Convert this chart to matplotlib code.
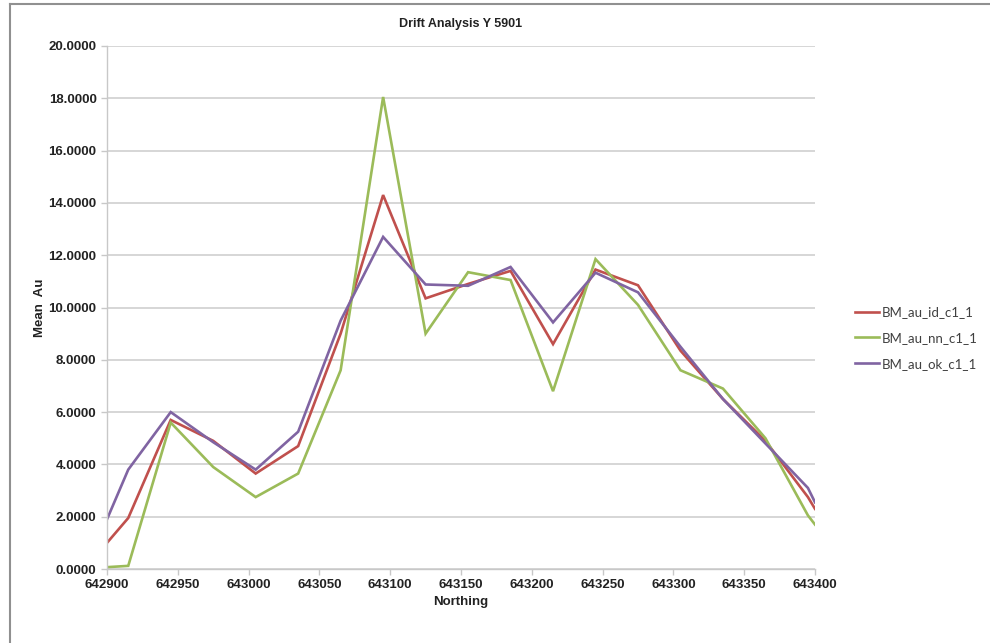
import matplotlib.pyplot as plt
from matplotlib.lines import Line2D
from matplotlib.ticker import FormatStrFormatter, MultipleLocator

plt.rcParams['font.family'] = ['Liberation Sans', 'DejaVu Sans']

# northing positions (first/last are the axis edges where the lines get cut)
northing = [642900, 642915, 642945, 642975, 643005, 643035, 643065, 643095, 643125,
            643155, 643185, 643215, 643245, 643275, 643305, 643335, 643365, 643395, 643400]

au_id = [1.0, 1.95, 5.7, 4.9, 3.65, 4.7, 9.0, 14.3, 10.35,
         10.9, 11.4, 8.6, 11.45, 10.85, 8.35, 6.5, 4.9, 2.75, 2.3]
au_nn = [0.07, 0.12, 5.6, 3.9, 2.75, 3.65, 7.6, 18.05, 9.0,
         11.35, 11.05, 6.8, 11.85, 10.1, 7.6, 6.9, 5.0, 2.05, 1.7]
au_ok = [1.9, 3.8, 6.0, 4.85, 3.8, 5.25, 9.5, 12.7, 10.88,
         10.83, 11.55, 9.43, 11.33, 10.58, 8.5, 6.5, 4.8, 3.1, 2.55]

series = [('BM_au_id_c1_1', au_id, '#C0504D'),
          ('BM_au_nn_c1_1', au_nn, '#9BBB59'),
          ('BM_au_ok_c1_1', au_ok, '#8064A2')]

fig = plt.figure(figsize=(9.9, 6.43), dpi=100)
ax = fig.add_axes([107/990, 1 - 569/643, (815-107)/990, (569-46)/643])

for name, vals, col in series:
    ax.plot(northing, vals, color=col, lw=1.9, label=name, solid_joinstyle='miter')

ax.set_xlim(642900, 643400)
ax.set_ylim(0, 20)
ax.xaxis.set_major_locator(MultipleLocator(50))
ax.yaxis.set_major_locator(MultipleLocator(2))
ax.yaxis.set_major_formatter(FormatStrFormatter('%.4f'))
ax.grid(axis='y', color='#d0d0d0', lw=1.2)
ax.set_axisbelow(True)

for s in ['top', 'right']:
    ax.spines[s].set_visible(False)
for s in ['left', 'bottom']:
    ax.spines[s].set_color('#c8c8c8')
    ax.spines[s].set_linewidth(1.0)
ax.tick_params(axis='both', colors='#c8c8c8', length=4, width=1, labelcolor='#222222',
               labelsize=9.5)
for lab in ax.get_xticklabels() + ax.get_yticklabels():
    lab.set_fontweight('bold')

ax.set_xlabel('Northing', fontsize=9.5, fontweight='bold', color='#222222', labelpad=3)
ax.set_ylabel('Mean  Au', fontsize=9.5, fontweight='bold', color='#222222', labelpad=2)
fig.text(0.5 * (107 + 815) / 990, 1 - 24/643, 'Drift Analysis Y 5901', ha='center', va='center',
         fontsize=9, fontweight='bold', color='#222222')

leg = fig.legend(loc='center left', bbox_to_anchor=(855/990, 1 - 338/643), frameon=False,
                 prop={'family': ['Lato', 'DejaVu Sans'], 'size': 9.5},
                 handlelength=1.8, labelspacing=1.05, handletextpad=0.25,
                 borderpad=0, borderaxespad=0)
for t in leg.get_texts():
    t.set_color('#404040')

# outer chart border (top and left visible)
fig.add_artist(Line2D([10/990, 1], [1 - 4/643, 1 - 4/643], transform=fig.transFigure,
                      color='#909090', lw=1.5))
fig.add_artist(Line2D([10/990, 10/990], [0, 1 - 4/643], transform=fig.transFigure,
                      color='#909090', lw=1.5))

fig.savefig('out.png', dpi=100)
